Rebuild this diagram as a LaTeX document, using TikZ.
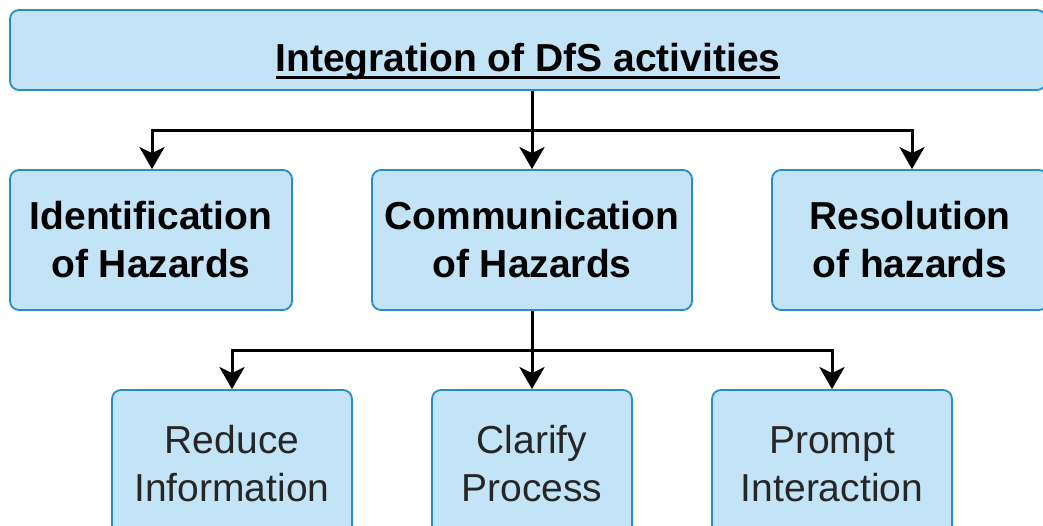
\documentclass[tikz,border=0pt]{standalone}
\usepackage{fontspec}
\setmainfont{Liberation Sans}
\usetikzlibrary{arrows.meta,calc}

\definecolor{boxfill}{HTML}{C2E4F6}
\definecolor{boxline}{HTML}{2A8BCB}
\definecolor{softtext}{HTML}{262626}

% thick underline sized for the large title font
\newcommand{\thickul}[1]{\setbox0\hbox{#1}\rlap{\rule[-7.5pt]{\wd0}{3.2pt}}\box0}

\tikzset{
  box/.style={draw=boxline, line width=1.8pt, fill=boxfill, rounded corners=9pt,
              align=center, inner sep=0pt},
  headtext/.style={font=\fontsize{39}{48}\selectfont\bfseries, text=black},
  subtext/.style={font=\fontsize{39}{48}\selectfont, text=softtext},
  conn/.style={draw=black, line width=3pt,
               -{Stealth[length=22pt, width=25pt, inset=6pt]}},
  link/.style={draw=black, line width=3pt}
}

\begin{document}
\begin{tikzpicture}[x=1pt, y=-1pt]
  \useasboundingbox (0,0) rectangle (1043,526);
  \clip (0,0) rectangle (1043,526);

  % top level (the strut lowers the title a little inside its box)
  \node[box, headtext, minimum width=1036pt, minimum height=80pt]
    (top) at (528,50) {\rule{0pt}{51pt}\thickul{Integration of DfS activities}};

  % second level
  \node[box, headtext, minimum width=282pt, minimum height=140pt]
    (ide) at (151,240) {Identification\\of Hazards};
  \node[box, headtext, minimum width=320pt, minimum height=140pt]
    (com) at (532,240) {Communication\\of Hazards};
  \node[box, headtext, minimum width=276pt, minimum height=140pt]
    (res) at (910,240) {Resolution\\of hazards};

  % third level
  \node[box, subtext, minimum width=240pt, minimum height=148pt]
    (red) at (232,464) {Reduce\\Information};
  \node[box, subtext, minimum width=200pt, minimum height=148pt]
    (cla) at (532,464) {Clarify\\Process};
  \node[box, subtext, minimum width=240pt, minimum height=148pt]
    (pro) at (832,464) {Prompt\\Interaction};

  % connectors from the top box
  \coordinate (topjoin) at ($(top.south -| com.north)+(0,40)$);
  \draw[link] (top.south -| com.north) -- (topjoin);
  \draw[conn] (topjoin) -- (com.north);
  \draw[conn] (topjoin) -| ($(ide.north)+(1,0)$);
  \draw[conn] (topjoin) -| ($(res.north)+(2,0)$);

  % connectors from the communication box
  \coordinate (comjoin) at ($(com.south)+(0,40)$);
  \draw[link] (com.south) -- (comjoin);
  \draw[conn] (comjoin) -- (cla.north);
  \draw[conn] (comjoin) -| (red.north);
  \draw[conn] (comjoin) -| (pro.north);
\end{tikzpicture}
\end{document}
